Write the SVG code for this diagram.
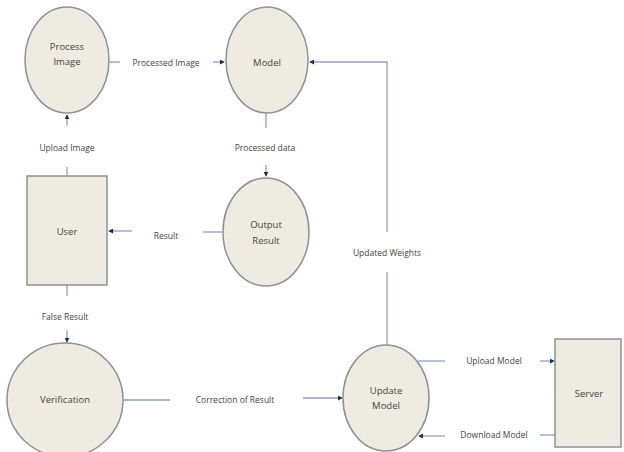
<svg xmlns="http://www.w3.org/2000/svg" width="624" height="452" viewBox="0 0 624 452">
<style>
.n{fill:#eeece1;stroke:#8e9196;stroke-width:1.5}
.t{font-family:"Open Sans","Liberation Sans",sans-serif;font-size:9.5px;fill:#444;text-anchor:middle}
.l{font-family:"Open Sans","Liberation Sans",sans-serif;font-size:8.5px;fill:#444;text-anchor:middle}
.c{fill:none;stroke:#8ea0bc;stroke-width:1.3}
</style>
<defs>
<marker id="a" viewBox="0 0 6 6" refX="5" refY="3" markerWidth="5" markerHeight="5" orient="auto" markerUnits="userSpaceOnUse">
<path d="M0,0 L6,3 L0,6 z" fill="#1f2d4a"/>
</marker>
</defs>
<rect width="624" height="452" fill="#fff"/>
<g id="connectors">
<path class="c" d="M110,62 H120"/>
<path class="c" d="M213,62 H224" marker-end="url(#a)"/>
<path class="c" d="M387,272 V345"/>
<path class="c" d="M387,232 V62 H310" marker-end="url(#a)"/>
<path class="c" d="M266,113 V128"/>
<path class="c" d="M266,165 V176" marker-end="url(#a)"/>
<path class="c" d="M67,176 V167"/>
<path class="c" d="M67,126 V115" marker-end="url(#a)"/>
<path class="c" d="M223,232 H203"/>
<path class="c" d="M132,231 H109" marker-end="url(#a)"/>
<path class="c" d="M67,285 V296"/>
<path class="c" d="M67,330 V342" marker-end="url(#a)"/>
<path class="c" d="M122,400 H170"/>
<path class="c" d="M303,398 H342" marker-end="url(#a)"/>
<path class="c" d="M418,361 H445"/>
<path class="c" d="M540,361 H554" marker-end="url(#a)"/>
<path class="c" d="M555,435 H540"/>
<path class="c" d="M445,436 H419" marker-end="url(#a)"/>
<text class="l" x="166" y="66">Processed Image</text>
<text class="l" x="265" y="151">Processed data</text>
<text class="l" x="67" y="151">Upload Image</text>
<text class="l" x="166" y="239">Result</text>
<text class="l" x="387" y="256">Updated Weights</text>
<text class="l" x="65" y="320">False Result</text>
<text class="l" x="235" y="403">Correction of Result</text>
<text class="l" x="494" y="364">Upload Model</text>
<text class="l" x="494" y="438">Download Model</text>
</g>
<g id="process-image">
<ellipse class="n" cx="67" cy="60" rx="42" ry="53"/>
<text class="t" x="67" y="50">Process</text>
<text class="t" x="67" y="65">Image</text>
</g>
<g id="model">
<ellipse class="n" cx="267" cy="60" rx="41" ry="53"/>
<text class="t" x="267" y="66">Model</text>
</g>
<g id="output-result">
<ellipse class="n" cx="266" cy="232" rx="43" ry="54"/>
<text class="t" x="266" y="228">Output</text>
<text class="t" x="266" y="244">Result</text>
</g>
<g id="user">
<rect class="n" x="27" y="176" width="80" height="109"/>
<text class="t" x="67" y="235">User</text>
</g>
<g id="verification">
<ellipse class="n" cx="65" cy="400" rx="58" ry="57"/>
<text class="t" x="65" y="403">Verification</text>
</g>
<g id="update-model">
<ellipse class="n" cx="386" cy="398" rx="43" ry="53"/>
<text class="t" x="386" y="394">Update</text>
<text class="t" x="386" y="409">Model</text>
</g>
<g id="server">
<rect class="n" x="555" y="339" width="66" height="108"/>
<text class="t" x="589" y="397">Server</text>
</g>
</svg>
